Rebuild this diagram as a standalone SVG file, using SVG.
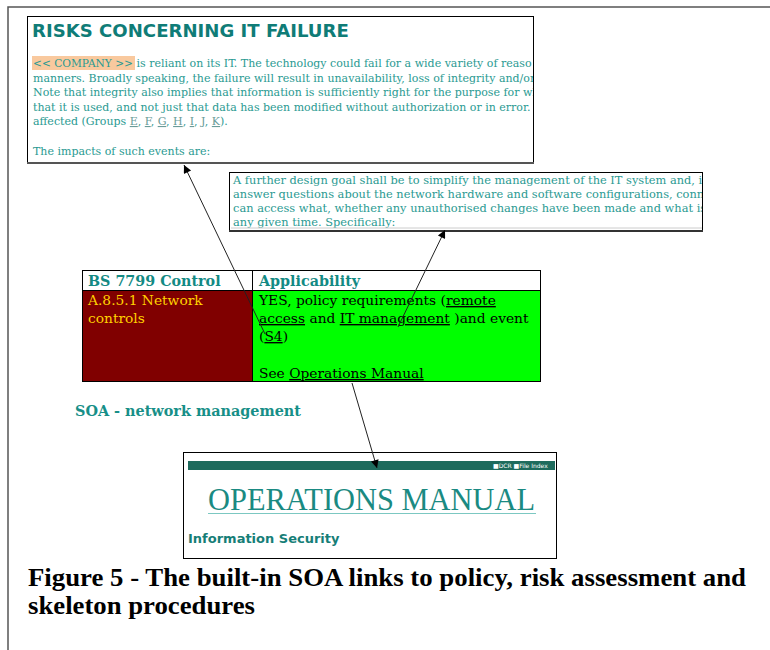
<svg xmlns="http://www.w3.org/2000/svg" width="770" height="650" viewBox="0 0 770 650">
  <style>
    .frame { fill: none; stroke: #555; stroke-width: 1.5; }
    .box { fill: #fff; stroke: #000; stroke-width: 1; }
    .title { font-family: "DejaVu Sans", Verdana, sans-serif; font-weight: bold; fill: #0f7c77; }
    .body { font-family: "DejaVu Serif", Georgia, serif; font-size: 11px; fill: #2a9a92; }
    .body2 { font-family: "DejaVu Serif", Georgia, serif; font-size: 11.4px; fill: #2a9a92; }
    .grp { fill: #6a9c99; text-decoration: underline; }
    .hdr { font-family: "DejaVu Serif", Georgia, serif; font-size: 14.3px; font-weight: bold; fill: #138a84; }
    .cell { font-family: "DejaVu Serif", Georgia, serif; font-size: 13.8px; fill: #000; }
    .cellr { font-family: "DejaVu Serif", Georgia, serif; font-size: 13.8px; fill: #ffd200; }
    .u { text-decoration: underline; }
    .soa { font-family: "DejaVu Serif", Georgia, serif; font-size: 14.4px; font-weight: bold; fill: #178f88; }
    .ops { font-family: "Liberation Serif", "Times New Roman", serif; font-size: 31px; fill: #1a8a82; }
    .infosec { font-family: "DejaVu Sans", Verdana, sans-serif; font-size: 13px; font-weight: bold; fill: #167e77; }
    .tiny { font-family: "DejaVu Sans", Verdana, sans-serif; font-size: 6px; fill: #fff; }
    .caption { font-family: "Liberation Serif", "Times New Roman", serif; font-size: 25px; font-weight: bold; fill: #000; }
    .conn { stroke: #222; stroke-width: 1; fill: none; marker-end: url(#arrow); }
  </style>
  <defs>
    <marker id="arrow" viewBox="0 0 10 10" refX="10" refY="5" markerWidth="11" markerHeight="8" markerUnits="userSpaceOnUse" orient="auto">
      <path d="M0,0 L10,5 L0,10 z" fill="#000"/>
    </marker>
    <clipPath id="clipRisk"><rect x="28" y="17" width="505" height="145"/></clipPath>
    <clipPath id="clipDesign"><rect x="231" y="173" width="471" height="55"/></clipPath>
  </defs>

  <rect width="770" height="650" fill="#fff"/>

  <!-- outer page frame -->
  <path class="frame" d="M8,650 L8,7 L770,7"/>

  <!-- Risks box -->
  <g id="risks">
    <rect class="box" x="27.5" y="16.5" width="506" height="146"/>
    <line x1="27" y1="163" x2="534" y2="163" stroke="#555" stroke-width="2"/>
    <g clip-path="url(#clipRisk)">
      <text class="title" x="32" y="37" font-size="18.1">RISKS CONCERNING IT FAILURE</text>
      <rect x="32" y="56" width="103" height="14" fill="#f9c99e"/>
      <text class="body" x="33" y="67"><tspan textLength="100" lengthAdjust="spacingAndGlyphs">&lt;&lt; COMPANY &gt;&gt;</tspan> is reliant on its IT.  The technology could fail for a wide variety of reaso</text>
      <text class="body" x="33" y="81.5">manners.  Broadly speaking, the failure will result in unavailability, loss of integrity and/or</text>
      <text class="body" x="33" y="96">Note that integrity also implies that information is sufficiently right for the purpose for wh</text>
      <text class="body" x="33" y="110.5">that it is used, and not just that data has been modified without authorization or in error.  A</text>
      <text class="body" x="33" y="125">affected (Groups <tspan class="grp">E</tspan>, <tspan class="grp">F</tspan>, <tspan class="grp">G</tspan>, <tspan class="grp">H</tspan>, <tspan class="grp">I</tspan>, <tspan class="grp">J</tspan>, <tspan class="grp">K</tspan>).</text>
      <text class="body" x="33" y="155">The impacts of such events are:</text>
    </g>
  </g>

  <!-- Design goal box -->
  <g id="design">
    <rect class="box" x="229.5" y="172.5" width="473" height="58"/>
    <line x1="229" y1="231" x2="703" y2="231" stroke="#333" stroke-width="2"/>
    <g clip-path="url(#clipDesign)">
      <text class="body2" x="233" y="184">A further design goal shall be to simplify the management of the IT system and, i</text>
      <text class="body2" x="233" y="198">answer questions about the network hardware and software configurations, conn</text>
      <text class="body2" x="233" y="212">can access what, whether any unauthorised changes have been made and what is</text>
      <text class="body2" x="233" y="226">any given time.  Specifically:</text>
    </g>
    <line x1="231" y1="228" x2="702" y2="228" stroke="#ccc" stroke-width="1"/>
  </g>

  <!-- SOA table -->
  <g id="soa-table">
    <rect x="82.5" y="270.5" width="458" height="20" fill="#fff" stroke="#000"/>
    <rect x="82.5" y="290.5" width="170" height="91" fill="#800000" stroke="#000"/>
    <rect x="252.5" y="290.5" width="288" height="91" fill="#00ff00" stroke="#000"/>
    <line x1="252.5" y1="270.5" x2="252.5" y2="290.5" stroke="#000"/>
    <text class="hdr" x="88" y="286">BS 7799 Control</text>
    <text class="hdr" x="259" y="286">Applicability</text>
    <text class="cellr" x="88" y="305">A.8.5.1 Network</text>
    <text class="cellr" x="88" y="323">controls</text>
    <text class="cell" x="259" y="305">YES, policy requirements (<tspan class="u">remote</tspan></text>
    <text class="cell" x="259" y="323"><tspan class="u">access</tspan> and <tspan class="u">IT management</tspan> )and event</text>
    <text class="cell" x="259" y="341">(<tspan class="u">S4</tspan>)</text>
    <text class="cell" x="259" y="378">See <tspan class="u">Operations Manual</tspan></text>
  </g>

  <g id="soa-label">
    <text class="soa" x="75" y="416">SOA - network management</text>
  </g>

  <!-- Operations manual box -->
  <g id="ops-manual">
    <rect class="box" x="183.5" y="452.5" width="373" height="106"/>
    <rect x="188" y="461" width="367" height="9" fill="#1e6b5d"/>
    <text class="tiny" x="493" y="468">■DCR  ■File Index</text>
    <text class="ops" x="208" y="510" textLength="327" lengthAdjust="spacingAndGlyphs">OPERATIONS MANUAL</text>
    <line x1="208" y1="513.5" x2="536" y2="513.5" stroke="#7cc8c2" stroke-width="1"/>
    <text class="infosec" x="188" y="543">Information Security</text>
  </g>

  <!-- connectors -->
  <g id="connectors">
    <line class="conn" x1="265" y1="334" x2="184" y2="165"/>
    <line class="conn" x1="398" y1="327" x2="445" y2="230"/>
    <line class="conn" x1="352" y1="383" x2="377" y2="468"/>
  </g>

  <!-- caption -->
  <g id="caption">
    <text class="caption" x="28" y="586" textLength="718" lengthAdjust="spacingAndGlyphs">Figure 5 - The built-in SOA links to policy, risk assessment and</text>
    <text class="caption" x="28" y="614" textLength="227" lengthAdjust="spacingAndGlyphs">skeleton procedures</text>
  </g>
</svg>
